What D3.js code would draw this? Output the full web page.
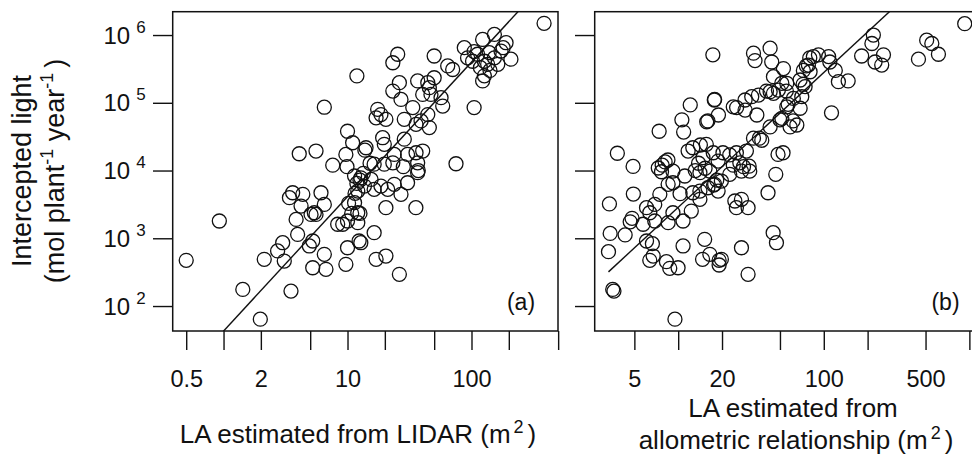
<!DOCTYPE html>
<html>
<head>
<meta charset="utf-8">
<script src="https://cdn.jsdelivr.net/npm/d3@7"></script>
<style>
body { margin: 0; background: #fff; }
text { font-family: "Liberation Sans", Arial, sans-serif; fill: #111; }
</style>
</head>
<body>
<div id="chart"></div>
<script>
// leaf area (m2), intercepted light (mol plant-1 year-1)
var lidarPoints = [
  [385,1.49e6],[153,1.02e6],[123,8.6e5],[190,7.7e5],[87.5,6.5e5],[173,5.8e5],[208,4.4e5],[93,4.6e5],
  [102,4.1e5],[112,5.2e5],[127,4.1e5],[139,5.5e5],[153,4.6e5],[135,3.7e5],[163,3.7e5],[123,2.1e5],
  [127,2.5e5],[11.9,2.49e5],[23.2,3.9e5],[25.4,5.2e5],[50,4.9e5],[64.3,3.5e5],[70.5,3.1e5],[26.2,1.98e5],
  [23.2,1.49e5],[27,1.12e5],[36.8,2.1e5],[44.4,1.98e5],[50,2.34e5],[45.7,1.67e5],[40.4,1.33e5],[47.1,1.33e5],
  [56.8,1.19e5],[141,3.0e5],[118,3.3e5],[180,6.5e5],[105,5.7e5],[105,8.5e4],[58.6,8.95e4],[17.5,8.0e4],
  [18.6,6.7e4],[17,6.0e4],[20.4,5.7e4],[28.7,5.7e4],[33.6,8.5e4],[35.7,4.8e4],[44.4,6.7e4],[45.7,4.3e4],
  [39.2,5.4e4],[10,3.8e4],[11,2.57e4],[14.1,2.17e4],[9.7,1.73e4],[19.2,3.05e4],[19.8,2.44e4],[28.7,2.9e4],
  [30.5,1.73e4],[35.7,1.83e4],[40.4,1.94e4],[23.8,1.73e4],[23.2,1.3e4],[36.8,1.3e4],[16.4,1.24e4],[19.8,1.24e4],
  [75,1.26e4],[6.5,8.6e4],[4.08,1.77e4],[5.57,1.94e4],[7.6,1.2e4],[15.2,1.28e4],[9.9,1.14e4],[28.2,1.14e4],
  [13.8,2.0e4],[37.2,1.0e4],[36.8,9300],[30.5,6600],[27,4450],[35.6,2830],[20.4,2830],[16.4,5270],
  [18.6,5900],[21.1,5270],[13.7,5900],[15.5,7400],[12.8,7800],[11.4,8300],[23.8,6250],[12.1,4980],
  [11.4,3350],[12.1,2380],[10,1800],[8.33,1610],[9.15,1610],[12.1,1700],[16.4,1210],[10,725],
  [12.4,912],[12.8,860],[17,489],[20.4,547],[26.2,294],[9.7,413],[6.5,580],[6.7,348],
  [5.24,367],[5.24,912],[4.92,770],[3.96,1140],[3.85,1900],[4.22,2990],[3.4,3970],[3.61,4700],
  [4.36,4450],[6.11,4700],[6.5,3160],[5.4,2380],[5.08,2250],[5.57,2250],[3.0,860],[2.73,650],
  [2.13,489],[3.09,461],[1.43,176],[3.5,166],[1.98,64],[0.925,1800],[0.5,473],[10.2,3280],
  [10.8,2330],[12.6,2330],[11.5,4600],[11.9,6460],[13.4,9100],[12.6,7200]
];
var allomPoints = [
  [929,1.47e6],[219,1.0e6],[214,7.5e5],[182,4.9e5],[225,4.0e5],[257,5.1e5],[250,3.6e5],[509,8.4e5],
  [552,7.5e5],[613,5.2e5],[447,4.4e5],[17.3,5.1e5],[32.9,5.4e5],[33.7,4.2e5],[42.8,6.4e5],[43.9,4.0e5],
  [52.8,3.2e5],[45.1,2.43e5],[51.5,1.94e5],[55.7,1.94e5],[68.8,2.17e5],[74.4,1.73e5],[78.4,3.6e5],[84.8,4.8e5],
  [91.9,5.1e5],[108,4.8e5],[110,4.0e5],[120,3.0e5],[126,2.05e5],[147,2.1e5],[72.4,3.0e5],[80.5,2.87e5],
  [113,7.1e4],[32,1.23e5],[35.6,1.3e5],[28.8,1.1e5],[28.8,7.8e4],[34.7,6.6e4],[42.8,1.46e5],[45.1,1.38e5],
  [48.8,1.54e5],[55.7,8.7e4],[68.8,8.3e4],[70.6,1.23e5],[61.8,1.16e5],[51.5,5.9e4],[58.7,4.4e4],[65.3,4.7e4],
  [42.8,4.4e4],[36.1,3.0e4],[32.9,3.0e4],[23.9,8.7e4],[25.2,8.5e4],[17.7,1.1e5],[18.9,6.6e4],[15.7,5.25e4],
  [12.1,9.3e4],[10.6,5.6e4],[10.9,3.7e4],[7.4,3.8e4],[3.82,1.8e4],[4.9,1.15e4],[3.37,3210],[4.92,4500],
  [3.41,1180],[3.32,634],[4.32,1120],[4.68,1750],[4.82,1970],[3.55,176],[3.62,166],[9.5,64],
  [7.3,1.09e4],[7.76,1.2e4],[8.13,1.34e4],[8.5,1.43e4],[7.68,9600],[9.2,9800],[11.1,8300],[14.1,9300],
  [16.5,9800],[22.6,8800],[27.2,9800],[31,9800],[46.8,8800],[7.48,4450],[8.53,6250],[9.2,6600],
  [10.3,4550],[12.6,4700],[14.1,4980],[16,5570],[17.8,6250],[18.8,4980],[19.8,7000],[12.3,2520],
  [14.1,3760],[10.8,1800],[9.2,2380],[8.53,1700],[6.06,2830],[6.38,2380],[6.9,3160],[6.9,1800],
  [5.74,1610],[6.06,912],[6.65,832],[6.73,547],[6.38,473],[8.3,451],[8.75,360],[9.98,367],
  [10.8,770],[15.2,966],[14.7,489],[16.5,580],[19.1,473],[19.8,489],[19.1,403],[27.2,725],
  [30.2,294],[41.4,4700],[44.9,1210],[47.3,860],[24.5,3550],[27.2,3760],[30.2,2830],[25.1,2830],
  [16,5.4e4],[17.8,1.12e5],[40.4,1.49e5],[48.5,1.73e4],[29.4,1.94e4],[25.1,1.83e4],[22.6,1.7e4],[20.3,1.83e4],
  [17.4,1.83e4],[15.6,2.44e4],[12.6,2.17e4],[11.7,1.94e4],[14.8,1.55e4],[18.8,1.38e4],[26.5,1.3e4],[30.7,1.16e4],
  [55.3,1.49e5],[56.9,9.5e4],[61.5,5.4e4],[72.1,1.87e5],[75.9,3.5e5],[80.1,4.6e5],[52.5,1.83e4],[28.1,1.14e4],
  [23.9,1.2e4],[18.4,7200],[17.5,6100],[13.8,1.28e4],[13.1,1.0e4],[15.3,1.08e4],[14.2,2.38e4],[37.5,2.8e4],
  [50,5.6e4]
];
// regression lines on log10 scale: [intercept, slope]
var fitLidar = [1.63, 1.985];
var fitAllom = [1.467, 1.99];

var yTicks = [1e2, 1e3, 1e4, 1e5, 1e6];
var xTicksLidar = [0.5, 1, 2, 5, 10, 20, 50, 100, 200, 500];
var xLabelsLidar = [0.5, 2, 10, 100];
var xTicksAllom = [5, 10, 20, 50, 100, 200, 500, 1000];
var xLabelsAllom = [5, 20, 100, 500];

var W = 972, H = 459;
var plotTop = 11.7, plotBottom = 331;
var svg = d3.select("#chart").append("svg").attr("width", W).attr("height", H);

var y = d3.scaleLog().domain([42.8, 2.21e6]).range([plotBottom, plotTop]);

function panel(id, left, right, xDomain, pts, fit, ticks, labels, tag, tagX, yLabels) {
  var x = d3.scaleLog().domain(xDomain).range([left, right]);
  var g = svg.append("g");

  g.append("clipPath").attr("id", id).append("rect")
    .attr("x", left).attr("y", plotTop).attr("width", right - left).attr("height", plotBottom - plotTop);

  // x axis
  var xa = g.append("g").attr("transform", "translate(0," + plotBottom + ")")
    .call(d3.axisBottom(x).tickValues(ticks).tickSizeInner(19).tickSizeOuter(0)
      .tickFormat(function(d) { return labels.indexOf(d) >= 0 ? d : ""; }));
  xa.select(".domain").remove();
  xa.selectAll("line").attr("stroke", "#111").attr("stroke-width", 1.4);
  xa.selectAll("text").attr("y", 56).attr("dy", 0).attr("fill", "#111")
    .style("font-size", "23.5px").style("font-family", "Liberation Sans, Arial, sans-serif");

  // y axis
  var ya = g.append("g").attr("transform", "translate(" + left + ",0)")
    .call(d3.axisLeft(y).tickValues(yTicks).tickSizeInner(19.7).tickSizeOuter(0).tickFormat(""));
  ya.select(".domain").remove();
  ya.selectAll("line").attr("stroke", "#111").attr("stroke-width", 1.4);
  if (yLabels) {
    yTicks.forEach(function(v) {
      var t = g.append("text").attr("x", left - 27).attr("y", y(v) + 8.5)
        .attr("text-anchor", "end").style("font-size", "24px");
      t.append("tspan").text("10");
      t.append("tspan").attr("dx", 6).attr("dy", -11).style("font-size", "17px").text(Math.round(Math.log10(v)));
    });
  }

  // regression line
  var line = d3.line()
    .x(function(d) { return x(d); })
    .y(function(d) { return y(Math.pow(10, fit[0] + fit[1] * Math.log10(d))); });
  g.append("path").datum(d3.extent(pts, function(d) { return d[0]; }))
    .attr("d", line).attr("fill", "none").attr("stroke", "#111").attr("stroke-width", 1.4)
    .attr("clip-path", "url(#" + id + ")");

  // points
  g.selectAll("circle.pt").data(pts).join("circle").attr("class", "pt")
    .attr("cx", function(d) { return x(d[0]); })
    .attr("cy", function(d) { return y(d[1]); })
    .attr("r", 7).attr("fill", "none").attr("stroke", "#111").attr("stroke-width", 1.3);

  // frame
  g.append("rect").attr("x", left).attr("y", plotTop).attr("width", right - left).attr("height", plotBottom - plotTop)
    .attr("fill", "none").attr("stroke", "#111").attr("stroke-width", 1.5);

  g.append("text").attr("x", tagX).attr("y", 310).attr("text-anchor", "middle")
    .style("font-size", "23px").text(tag);
}

panel("clipA", 172.7, 558, [0.389, 498.6], lidarPoints, fitLidar, xTicksLidar, xLabelsLidar, "(a)", 521, true);
panel("clipB", 594.7, 980, [2.67, 1183], allomPoints, fitAllom, xTicksAllom, xLabelsAllom, "(b)", 945.5, false);

// axis titles
var t1 = svg.append("text").attr("transform", "translate(31,171) rotate(-90)")
  .attr("text-anchor", "middle").style("font-size", "27px").text("Intercepted light");
var t2 = svg.append("text").attr("transform", "translate(64,171) rotate(-90)")
  .attr("text-anchor", "middle").style("font-size", "27px");
t2.append("tspan").text("(mol plant");
t2.append("tspan").attr("dy", -11).style("font-size", "18px").text("-1");
t2.append("tspan").attr("dy", 11).text(" year");
t2.append("tspan").attr("dy", -11).style("font-size", "18px").text("-1");
t2.append("tspan").attr("dy", 11).attr("dx", 5).text(")");

function m2Title(xc, yb, label) {
  var t = svg.append("text").attr("x", xc).attr("y", yb).attr("text-anchor", "middle").style("font-size", "26px");
  t.append("tspan").text(label + "(m");
  t.append("tspan").attr("dx", 3).attr("dy", -10).style("font-size", "18px").text("2");
  t.append("tspan").attr("dx", 4).attr("dy", 10).text(")");
}
m2Title(358, 443, "LA estimated from LIDAR ");
svg.append("text").attr("x", 793).attr("y", 417).attr("text-anchor", "middle")
  .style("font-size", "26px").text("LA estimated from");
m2Title(796, 449, "allometric relationship ");
</script>
</body>
</html>
